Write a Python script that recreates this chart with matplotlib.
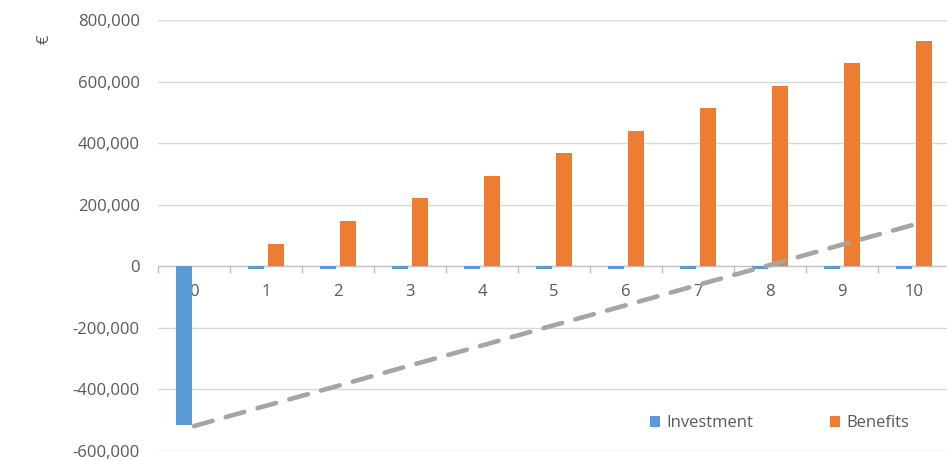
import numpy as np
import matplotlib.pyplot as plt
from matplotlib.ticker import FuncFormatter, MultipleLocator

# yearly figures in euro
years = [0, 1, 2, 3, 4, 5, 6, 7, 8, 9, 10]
investment = [-515000, -8000, -8000, -8000, -8000, -8000, -8000, -8000, -8000, -8000, -8000]
benefits = [0, 73000, 147000, 220000, 293000, 367000, 440000, 513000, 587000, 660000, 733000]
cumulative = [-520000, -454000, -389000, -323000, -258000, -192000, -127000, -61000, 4000, 70000, 135000]

blue = '#5B9BD5'
orange = '#ED7D31'
grey = '#A5A5A5'
txt = '#595959'

plt.rcParams['font.family'] = ['Open Sans', 'DejaVu Sans']

fig = plt.figure(figsize=(9.47, 4.61), dpi=100)
ax = fig.add_axes([0.1668, 0.0223, 0.8366, 0.9343])

x = np.arange(len(years))
w = 0.22
off = 0.138
ax.bar(x - off, investment, w, color=blue, label='Investment', zorder=3)
ax.bar(x + off, benefits, w, color=orange, label='Benefits', zorder=3)
ax.plot(x, cumulative, color=grey, lw=3.3, ls=(0, (4.2, 3.0)),
        dash_capstyle='round', zorder=4)

ax.set_xlim(-0.5, len(years) - 0.5)
ax.set_ylim(-600000, 800000)
ax.yaxis.set_major_locator(MultipleLocator(200000))
ax.yaxis.set_major_formatter(FuncFormatter(lambda v, p: f'{int(v):,}'))
ax.grid(axis='y', color='#D9D9D9', lw=1.0, zorder=0)

for s in ['top', 'right', 'left']:
    ax.spines[s].set_visible(False)
ax.spines['bottom'].set_position(('data', 0))
ax.spines['bottom'].set_color('#BFBFBF')
ax.spines['bottom'].set_zorder(2)

ax.set_xticks(x)
ax.set_xticklabels([str(y) for y in years])
ax.set_xticks(np.arange(-0.5, len(years), 1), minor=True)
ax.tick_params(axis='x', which='major', length=0, pad=13, labelsize=12, labelcolor=txt)
ax.tick_params(axis='x', which='minor', length=5, color='#BFBFBF', width=1)
ax.tick_params(axis='y', length=0, pad=13, labelsize=12, labelcolor=txt)

fig.text(0.047, 0.915, '€', rotation=90, color=txt, fontsize=12, ha='center', va='center')

ax.legend(loc='center', bbox_to_anchor=(0.823, 0.082), bbox_transform=fig.transFigure,
          ncol=2, frameon=False, fontsize=12, labelcolor=txt, handlelength=0.6,
          handleheight=0.6, handletextpad=0.4, columnspacing=4.6)

fig.savefig('out.png', dpi=100)
